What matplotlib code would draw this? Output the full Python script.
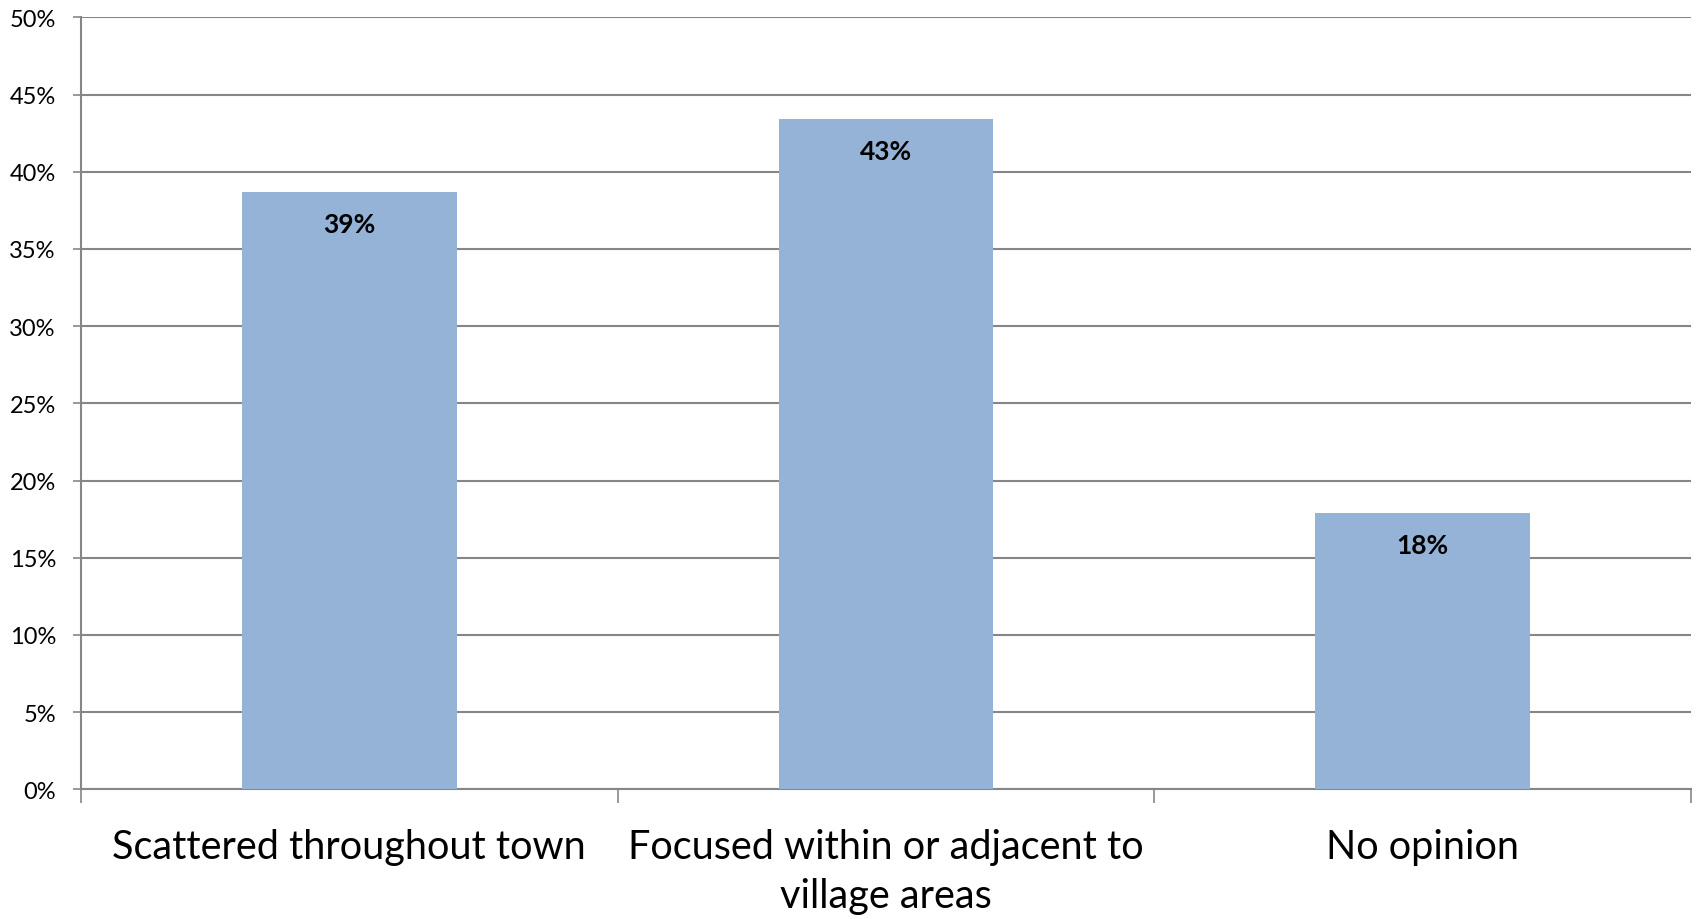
import numpy as np
import matplotlib.pyplot as plt
from matplotlib.ticker import FuncFormatter, FixedLocator

categories = ['Scattered throughout town', 'Focused within or adjacent to\nvillage areas', 'No opinion']
values = [38.7, 43.4, 17.9]
labels = ['39%', '43%', '18%']
yticks = [0, 5, 10, 15, 20, 25, 30, 35, 40, 45, 50]


def main():
    plt.rcParams['font.family'] = ['Lato', 'DejaVu Sans']

    fig = plt.figure(figsize=(17, 9.2), dpi=100)
    ax = fig.add_axes([0.0476, 0.141, 0.947, 0.839])

    x = np.arange(len(categories))
    bars = ax.bar(x, values, width=0.4, color='#95B3D7', zorder=3)

    for b, lab in zip(bars, labels):
        ax.annotate(lab, (b.get_x() + b.get_width() / 2, b.get_height()),
                    xytext=(0, -23), textcoords='offset points',
                    ha='center', va='center', fontsize=19, fontweight='bold', zorder=4)

    ax.set_xlim(-0.5, len(categories) - 0.5)
    ax.set_ylim(0, 50)
    ax.set_yticks(yticks)
    ax.yaxis.set_major_formatter(FuncFormatter(lambda v, p: '%d%%' % v))
    ax.yaxis.grid(True, color='#868686', linewidth=1.5, zorder=0)

    # category labels centred, tick marks on the boundaries
    ax.set_xticks(x)
    ax.set_xticklabels(categories, fontsize=28.5, linespacing=1.4)
    ax.tick_params(axis='x', which='major', length=0, pad=28)
    ax.xaxis.set_minor_locator(FixedLocator(np.arange(len(categories) + 1) - 0.5))
    ax.tick_params(axis='x', which='minor', length=10, width=1.2, color='#868686')
    ax.tick_params(axis='y', length=6, width=1.2, color='#868686', labelsize=17, pad=12)

    for s in ['top', 'right']:
        ax.spines[s].set_visible(False)
    for s in ['left', 'bottom']:
        ax.spines[s].set_color('#868686')
        ax.spines[s].set_linewidth(1.5)

    fig.savefig('out.png', dpi=100)


if __name__ == '__main__':
    main()
